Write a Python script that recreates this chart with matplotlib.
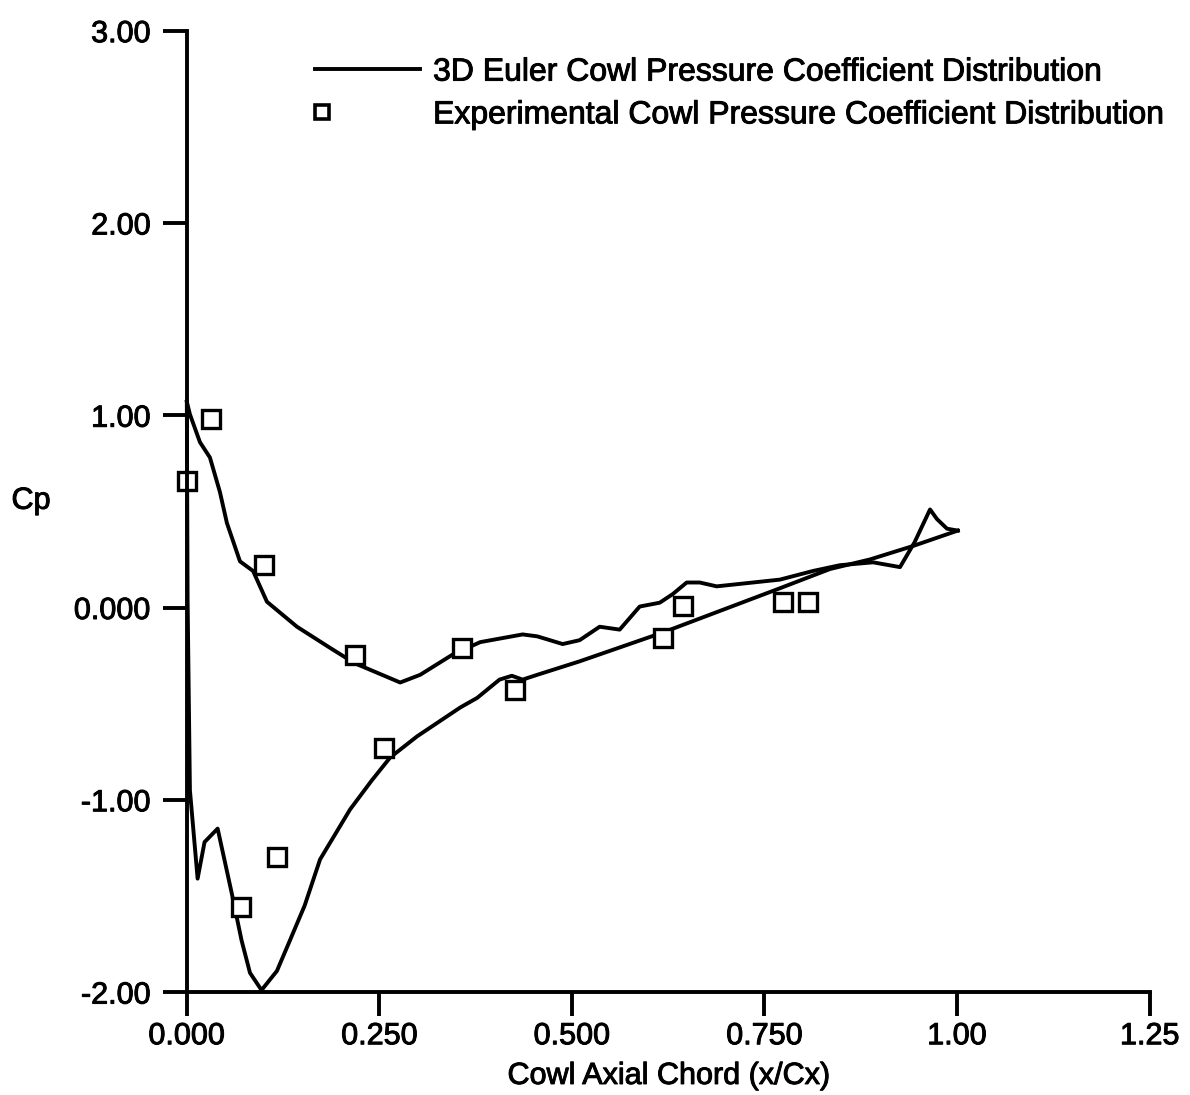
import matplotlib
matplotlib.use("Agg")
import matplotlib.pyplot as plt
import matplotlib.patheffects as pe
from matplotlib.legend_handler import HandlerLine2D
from matplotlib.lines import Line2D

plt.rcParams['font.family'] = ['Liberation Sans', 'DejaVu Sans']

# Euler solution, upper branch of the cowl (leading edge -> trailing edge)
upper_x = [0.0, 0.004, 0.017, 0.030, 0.043, 0.052, 0.069, 0.086, 0.104, 0.143,
           0.186, 0.218, 0.277, 0.303, 0.345, 0.381, 0.436, 0.455, 0.488, 0.510,
           0.536, 0.562, 0.588, 0.614, 0.631, 0.649, 0.666, 0.688, 0.770, 0.813,
           0.848, 0.891, 0.926, 0.945, 0.965, 0.974, 0.987, 1.001]
upper_cp = [1.07, 1.005, 0.86, 0.78, 0.60, 0.44, 0.24, 0.19, 0.03, -0.10,
            -0.21, -0.29, -0.39, -0.35, -0.245, -0.18, -0.14, -0.15, -0.19, -0.17,
            -0.10, -0.115, 0.005, 0.025, 0.07, 0.13, 0.13, 0.11, 0.145, 0.19,
            0.22, 0.235, 0.21, 0.34, 0.51, 0.46, 0.41, 0.40]

# Euler solution, lower branch
lower_x = [0.0, 0.001, 0.004, 0.014, 0.023, 0.040, 0.058, 0.071, 0.082, 0.097,
           0.117, 0.134, 0.153, 0.173, 0.212, 0.240, 0.264, 0.299, 0.355, 0.377,
           0.406, 0.422, 0.436, 0.455, 0.510, 0.618, 0.770, 0.835, 0.887, 0.943,
           1.001]
lower_cp = [1.07, 0.04, -0.95, -1.41, -1.22, -1.15, -1.48, -1.73, -1.90, -1.99,
            -1.89, -1.73, -1.55, -1.31, -1.05, -0.90, -0.78, -0.67, -0.52, -0.47,
            -0.375, -0.355, -0.375, -0.35, -0.28, -0.13, 0.10, 0.20, 0.25, 0.32,
            0.40]

# experiment
exp_x = [0.0, 0.031, 0.100, 0.218, 0.357, 0.426, 0.256, 0.117, 0.070,
         0.618, 0.644, 0.774, 0.806]
exp_cp = [0.66, 0.98, 0.22, -0.245, -0.21, -0.43, -0.73, -1.30, -1.56,
          -0.16, 0.01, 0.03, 0.03]

xticks = [0.0, 0.25, 0.5, 0.75, 1.0, 1.25]
xtick_labels = ['0.000', '0.250', '0.500', '0.750', '1.00', '1.25']
yticks = [-2, -1, 0, 1, 2, 3]
ytick_labels = ['-2.00', '-1.00', '0.000', '1.00', '2.00', '3.00']

heavy = [pe.withStroke(linewidth=0.7, foreground='black')]


class LeftMarker(HandlerLine2D):
    # single legend marker sits at the left end of the handle
    def get_xdata(self, legend, xdescent, ydescent, width, height, fontsize):
        x0 = -xdescent + 0.065 * width
        return [x0 - 5, x0 + 5], [x0]


fig = plt.figure(figsize=(11.9, 10.95), dpi=100)
ax = fig.add_axes([0.157, 0.094, 0.809, 0.878])

ax.plot(upper_x, upper_cp, color='black', lw=2.8, clip_on=False)
ax.plot(lower_x, lower_cp, color='black', lw=2.8, clip_on=False)
ax.plot(exp_x, exp_cp, ls='none', marker='s', ms=13, mfc='white',
        mec='black', mew=2.4, clip_on=False)

ax.set_xlim(0, 1.25)
ax.set_ylim(-2, 3)
ax.set_xticks(xticks)
ax.set_xticklabels(xtick_labels)
ax.set_yticks(yticks)
ax.set_yticklabels(ytick_labels)
ax.tick_params(direction='out', length=17, width=2.8, labelsize=22)
ax.tick_params(axis='y', pad=9)
ax.tick_params(axis='x', pad=4)
for lab in ax.get_xticklabels() + ax.get_yticklabels():
    lab.set_path_effects(heavy)
for s in ['top', 'right']:
    ax.spines[s].set_visible(False)
for s in ['left', 'bottom']:
    ax.spines[s].set_linewidth(2.8)

ax.set_xlabel('Cowl Axial Chord (x/Cx)', fontsize=22, labelpad=7,
              path_effects=heavy)
ax.set_ylabel('Cp', fontsize=22, rotation=0, ha='center', va='center',
              path_effects=heavy)
ax.yaxis.set_label_coords(-0.162, 0.511)

euler_h = Line2D([], [], color='black', lw=2.8)
exp_h = Line2D([], [], ls='none', marker='s', ms=9.5, mfc='white',
               mec='black', mew=2.6)
leg = ax.legend([euler_h, exp_h],
                ['3D Euler Cowl Pressure Coefficient Distribution',
                 'Experimental Cowl Pressure Coefficient Distribution'],
                loc='upper left', bbox_to_anchor=(0.133, 0.972), frameon=False,
                fontsize=23, handlelength=3.3, handletextpad=0.4,
                labelspacing=0.4, borderpad=0, borderaxespad=0,
                handler_map={exp_h: LeftMarker(numpoints=1)})
for t in leg.get_texts():
    t.set_path_effects(heavy)

fig.savefig('out.png', dpi=100)
